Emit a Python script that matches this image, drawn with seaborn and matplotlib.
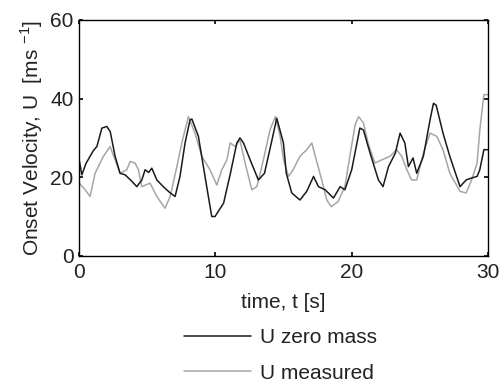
import numpy as np
import pandas as pd
import matplotlib
matplotlib.use("Agg")
import matplotlib.pyplot as plt
import seaborn as sns

t_zero = [0.0, 0.2, 0.5, 0.8, 1.05, 1.3, 1.67, 2.03, 2.28, 2.64, 3.0, 3.37, 3.8, 4.23, 4.6, 4.84, 5.1, 5.33, 5.7, 6.2, 6.68, 7.04, 7.4, 7.77, 8.14, 8.27, 8.75, 9.36, 9.73, 9.97, 10.3, 10.6, 11.1, 11.57, 11.8, 12.06, 12.55, 13.15, 13.6, 14.1, 14.5, 14.99, 15.2, 15.6, 16.2, 16.7, 17.2, 17.56, 18.05, 18.66, 19.15, 19.5, 20.0, 20.6, 20.86, 21.35, 21.96, 22.3, 22.7, 23.2, 23.55, 23.9, 24.16, 24.5, 24.77, 25.26, 25.75, 26.0, 26.2, 26.7, 27.2, 27.95, 28.4, 28.8, 29.2, 29.4, 29.7, 30.0]
u_zero = [24.4, 20.6, 23.5, 25.3, 26.8, 27.8, 32.5, 32.9, 31.6, 25.3, 21.0, 20.6, 19.2, 17.6, 19.3, 21.9, 21.2, 22.3, 19.3, 17.5, 16.0, 15.1, 20.2, 28.7, 34.6, 34.8, 30.4, 17.6, 10.0, 10.0, 11.8, 13.4, 21.0, 28.7, 30.0, 28.7, 24.4, 19.3, 21.0, 28.7, 35.0, 28.7, 21.0, 16.0, 14.2, 16.4, 20.2, 17.6, 16.8, 14.7, 17.6, 16.8, 21.9, 32.5, 32.0, 26.1, 19.3, 17.6, 22.7, 26.1, 31.2, 28.7, 22.7, 24.9, 21.0, 25.3, 34.6, 38.8, 38.3, 31.2, 25.3, 17.6, 19.3, 19.8, 20.2, 21.9, 27.0, 27.0]

t_meas = [0.0, 0.44, 0.8, 1.17, 1.78, 2.27, 2.64, 3.0, 3.5, 3.74, 4.1, 4.35, 4.6, 5.2, 5.7, 6.3, 6.68, 7.17, 7.53, 8.02, 8.5, 9.0, 9.6, 10.1, 10.47, 10.84, 11.08, 11.45, 11.8, 12.18, 12.67, 13.04, 13.52, 14.0, 14.4, 14.75, 15.0, 15.36, 15.7, 16.2, 16.7, 17.07, 17.4, 17.8, 18.17, 18.5, 19.0, 19.5, 19.9, 20.25, 20.5, 20.86, 21.2, 21.7, 22.2, 22.8, 23.3, 23.67, 24.05, 24.4, 24.77, 25.26, 25.75, 26.24, 26.7, 27.2, 27.95, 28.4, 28.8, 29.2, 29.4, 29.7, 30.0]
u_meas = [18.5, 16.8, 15.1, 21.0, 25.3, 27.8, 24.4, 21.0, 21.9, 24.0, 23.6, 21.9, 17.6, 18.5, 15.1, 12.1, 15.1, 22.7, 28.7, 35.4, 31.2, 25.3, 21.9, 18.0, 21.9, 24.4, 28.7, 27.8, 29.4, 23.6, 16.8, 17.6, 24.4, 32.0, 35.4, 30.4, 24.4, 20.2, 21.9, 25.3, 27.0, 28.7, 24.4, 19.3, 14.2, 12.5, 13.8, 17.6, 26.1, 33.3, 35.4, 33.8, 28.7, 23.6, 24.4, 25.3, 27.0, 25.3, 21.9, 19.3, 19.3, 26.1, 31.2, 30.4, 27.0, 21.0, 16.4, 16.0, 19.3, 23.6, 32.0, 41.0, 41.0]

x_ticks = [0, 10, 20, 30]
y_ticks = [0, 20, 40, 60]

sns.set_style("ticks")
plt.rcParams['font.family'] = ['Liberation Sans', 'DejaVu Sans']
txt = "#222222"

fig = plt.figure(figsize=(5.01, 3.83), dpi=100)
ax = fig.add_axes([0.158, 0.332, 0.816, 0.616])

df_zero = pd.DataFrame({"t": t_zero, "u": u_zero})
df_meas = pd.DataFrame({"t": t_meas, "u": u_meas})
sns.lineplot(data=df_meas, x="t", y="u", ax=ax, color="#a6a6a6", lw=1.1, label="U measured")
sns.lineplot(data=df_zero, x="t", y="u", ax=ax, color="#1a1a1a", lw=1.1, label="U zero mass")

ax.set_xlim(0, 30)
ax.set_ylim(0, 60)
ax.set_xticks(x_ticks)
ax.set_yticks(y_ticks)
ax.tick_params(direction="in", top=True, right=True, length=3, width=1.2,
               labelsize=15, labelcolor=txt, color="black")
ax.tick_params(axis="x", pad=5)
ax.tick_params(axis="y", pad=4)
for s in ax.spines.values():
    s.set_linewidth(1.0)
    s.set_color("black")
ax.set_xlabel("time, t [s]", fontsize=15, labelpad=8, color=txt)
ax.set_ylabel(r"Onset Velocity, U  [ms $^{\mathregular{-1}}$]", fontsize=15, labelpad=4, color=txt)

h, l = ax.get_legend_handles_labels()
ax.get_legend().remove()
leg = fig.legend([h[1], h[0]], [l[1], l[0]], loc="center", bbox_to_anchor=(0.56, 0.072),
                 frameon=False, fontsize=15, handlelength=3.2, labelspacing=0.8, handletextpad=0.45)
for t in leg.get_texts():
    t.set_color(txt)

fig.savefig("out.png", dpi=100)
